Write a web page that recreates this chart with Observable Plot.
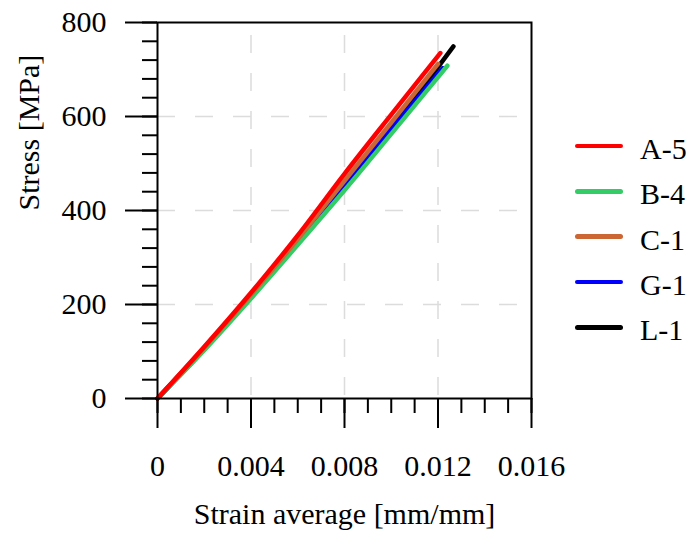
<!DOCTYPE html>
<html><head><meta charset="utf-8">
<script src="https://cdn.jsdelivr.net/npm/d3@7"></script>
<script src="https://cdn.jsdelivr.net/npm/@observablehq/plot@0.6"></script>
<style>
body{margin:0;background:#fff;}
#wrap{position:relative;width:692px;height:535px;font-family:"Liberation Serif","Times New Roman",serif;color:#000;}
#legend{position:absolute;left:575px;top:123.5px;}
.item{display:flex;align-items:center;height:45.3px;font-size:30px;}
.sw{width:48px;height:4.5px;border-radius:2.5px;margin-right:17px;}
.lab{position:relative;top:3px;}
</style></head>
<body><div id="wrap"><div id="legend"></div></div>
<script>
const series = ["A-5","B-4","C-1","G-1","L-1"];
const colors = ["#ff0000","#33cc66","#cc6633","#0000ff","#000000"];

const strainA = [0,0.002,0.004,0.006,0.008,0.010,0.0121];
const stressA = [0,110,225,347,478,604,735];
const strainB = [0,0.002,0.004,0.006,0.008,0.010,0.0124];
const stressB = [0,103,213,327,443,563,708];
const strainC = [0,0.002,0.004,0.006,0.008,0.010,0.0120];
const stressC = [0,108,221,339,463,587,712];
const strainG = [0,0.002,0.004,0.006,0.008,0.010,0.0122];
const stressG = [0,105,216,331,452,573,703];
const strainL = [0,0.002,0.004,0.006,0.008,0.010,0.0120,0.01266];
const stressL = [0,107,219,335,458,580,705,749];

const xMajor = [0,0.004,0.008,0.012,0.016];
const xLabels = ["0","0.004","0.008","0.012","0.016"];
const xMinor = d3.range(0,17).map(i => i*0.001);
const yMajor = [0,200,400,600,800];
const yLabels = ["0","200","400","600","800"];
const yMinor = d3.range(0,21).map(i => i*40);
const xTitle = "Strain average [mm/mm]";
const yTitle = "Stress [MPa]";

const seriesData = {
  "A-5":[strainA,stressA], "B-4":[strainB,stressB], "C-1":[strainC,stressC],
  "G-1":[strainG,stressG], "L-1":[strainL,stressL]
};
const drawOrder = ["L-1","G-1","B-4","C-1","A-5"];
const rows = [];
for (const s of drawOrder) {
  const [xs, ys] = seriesData[s];
  xs.forEach((x,i) => rows.push({series:s, strain:x, stress:ys[i]}));
}
const FONT = '"Liberation Serif","Times New Roman",serif';

const chart = Plot.plot({
  width:692, height:535,
  marginLeft:157, marginRight:161, marginTop:22, marginBottom:137,
  style:{fontFamily:FONT, fontSize:"30px", background:"white", color:"black", overflow:"visible"},
  x:{domain:[0,0.016]},
  y:{domain:[0,800]},
  color:{domain:series, range:colors},
  marks:[
    Plot.gridX(xMajor.slice(1,-1), {stroke:"#dcdcdc", strokeOpacity:1, strokeWidth:1.5, strokeDasharray:"18,20", strokeDashoffset:-13}),
    Plot.gridY(yMajor.slice(1,-1), {stroke:"#dcdcdc", strokeOpacity:1, strokeWidth:1.5, strokeDasharray:"18,20"}),
    Plot.line(rows, {x:"strain", y:"stress", z:"series", stroke:"series", strokeWidth:4.5, curve:"monotone-x", strokeLinecap:"round"}),
    Plot.frame({stroke:"black", strokeWidth:2}),
    Plot.axisY(yMinor, {tickSize:15, tickFormat:() => "", strokeWidth:2, label:null}),
    Plot.axisY(yMajor, {tickSize:32, tickPadding:19, tickFormat:(d) => yLabels[yMajor.indexOf(d)], strokeWidth:2, label:null, fontSize:30, fontFamily:FONT}),
    Plot.axisX(xMinor, {tickSize:15, tickFormat:() => "", strokeWidth:2, label:null}),
    Plot.axisX(xMajor, {tickSize:30, tickPadding:26, tickFormat:(d) => xLabels[xMajor.indexOf(d)], strokeWidth:2, label:null, fontSize:30, fontFamily:FONT}),
    Plot.text([xTitle], {frameAnchor:"bottom", dy:125, fontSize:30, fontFamily:FONT, text:d => d}),
    Plot.text([yTitle], {frameAnchor:"left", dx:-128, rotate:-90, fontSize:30, fontFamily:FONT, text:d => d})
  ]
});
const wrap = document.getElementById("wrap");
wrap.insertBefore(chart, wrap.firstChild);

const legend = document.getElementById("legend");
series.forEach((s,i) => {
  const it = document.createElement("div");
  it.className = "item";
  it.innerHTML = `<div class="sw" style="background:${colors[i]}"></div><span class="lab">${s}</span>`;
  legend.appendChild(it);
});
</script>
</body></html>
